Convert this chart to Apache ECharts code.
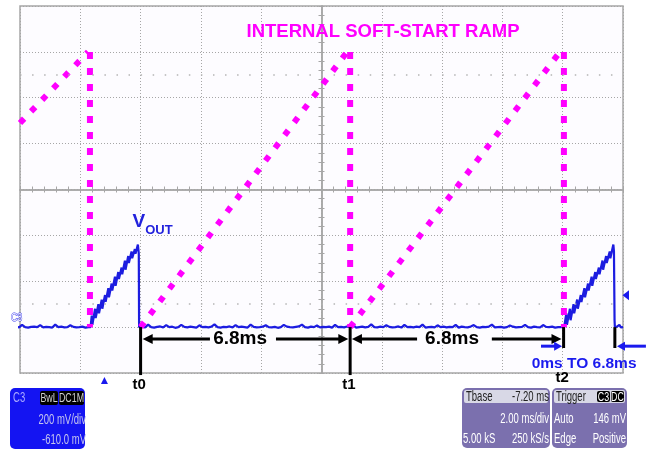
<!DOCTYPE html>
<html><head><meta charset="utf-8">
<script src="https://cdn.jsdelivr.net/npm/echarts@6/dist/echarts.min.js"></script>
<style>html,body{margin:0;padding:0;background:#fff}#c{width:646px;height:450px}</style>
</head><body><div id="c"></div>
<script>
// ---- data (time in ms relative to screen centre, volts relative to screen centre) ----
const X_TICKS = {min: -10, max: 10, step: 2};   // 2.00 ms/div
const Y_TICKS = {min: -0.8, max: 0.8, step: 0.2}; // 200 mV/div

// internal soft-start ramp (magenta)
const rampA = [[-10.0, 0.29], [-7.74, 0.60]];
const rampB = [[-6.0, -0.60], [0.85, 0.60]];
const rampC = [[0.95, -0.60], [7.91, 0.60]];
const dropA = [[-7.68, 0.60], [-7.68, -0.60]];
const dropB = [[0.95, 0.60], [0.95, -0.60]];
const dropC = [[8.04, 0.60], [8.04, -0.60]];

// VOUT trace (blue): flat sections sampled every 0.1 ms (values in mV), ramps as [ms, V]
const base1Start = -10.23, base1Step = 0.1;
const base1mV = [-600,-598,-601,-590,-600,-602,-599,-598,-600,-591,-601,-599,-600,-602,-589,-600,-598,-601,-600,-592,-599,-601,-600,-598,-602,-600];
const ramp1 = [[-7.66,-0.60],[-7.62,-0.55],[-7.60,-0.59],[-7.51,-0.52],[-7.49,-0.56],[-7.40,-0.50],[-7.38,-0.54],[-7.29,-0.48],[-7.27,-0.52],[-7.18,-0.46],[-7.16,-0.49],[-7.07,-0.43],[-7.05,-0.47],[-6.96,-0.41],[-6.94,-0.44],[-6.85,-0.38],[-6.83,-0.42],[-6.74,-0.36],[-6.72,-0.39],[-6.63,-0.34],[-6.61,-0.37],[-6.52,-0.31],[-6.50,-0.35],[-6.41,-0.29],[-6.39,-0.32],[-6.30,-0.27],[-6.28,-0.30],[-6.19,-0.26],[-6.17,-0.28],[-6.09,-0.24],[-6.06,-0.28],[-6.05,-0.60]];
const base2Start = -6.05, base2Step = 0.1;
const base2mV = [
 -600,-598,-601,-589,-600,-602,-599,-597,-601,-591,
 -600,-598,-603,-600,-590,-599,-601,-598,-600,-602,
 -592,-600,-599,-601,-598,-588,-600,-602,-599,-600,
 -597,-601,-591,-600,-598,-600,-602,-589,-599,-601,
 -600,-598,-592,-600,-601,-599,-603,-600,-590,-598,
 -600,-601,-599,-597,-589,-600,-602,-598,-600,-593,
 -601,-599,-600,-598,-602,-590,-600,-599,-601,-597,
 -600,-591,-602,-600,-598,-601,-599,-588,-600,-601,
 -598,-600,-592,-599,-601,-600,-597,-602,-590,-600,
 -599,-601,-598,-600,-589,-602,-600,-599,-601,-592,
 -600,-598,-601,-599,-600,-590,-602,-598,-600,-601,
 -597,-591,-600,-602,-599,-600,-598,-589,-601,-600,
 -599,-602,-600,-593,-598,-601,-600,-599,-590,-600,
 -602,-598,-600,-601,-591,-599,-600,-598,-602,-600,
 -600,-599];
const ramp2 = [[8.07,-0.60],[8.12,-0.54],[8.14,-0.59],[8.24,-0.52],[8.26,-0.57],[8.36,-0.50],[8.38,-0.54],[8.48,-0.48],[8.50,-0.52],[8.60,-0.46],[8.62,-0.49],[8.72,-0.43],[8.74,-0.47],[8.84,-0.41],[8.86,-0.44],[8.96,-0.38],[8.98,-0.42],[9.08,-0.36],[9.10,-0.39],[9.20,-0.34],[9.22,-0.37],[9.32,-0.31],[9.34,-0.35],[9.44,-0.29],[9.46,-0.32],[9.56,-0.27],[9.58,-0.30],[9.68,-0.24],[9.70,-0.27],[9.72,-0.57],[9.73,-0.60]];
const base3 = [[9.80,-0.598],[9.88,-0.590],[9.93,-0.601],[10.0,-0.600]];

// annotation anchors (data coords)
const T_MARKS = [-6.0, 0.95, 8.03];
const T_LABELS = ['t0', 't1', 't2'];
const END_MARK = 9.73;
const REF_LEVELS = [0.5, -0.5];
const TITLE = 'INTERNAL SOFT-START RAMP';
const SPAN_LABEL = '6.8ms';
const RANGE_LABEL = '0ms TO 6.8ms';

const chart = echarts.init(document.getElementById('c'), null, {renderer: 'canvas'});
const MAG = '#ff00ff', BLUE = '#1c1ce0', GRID = '#a6a6a6';
const FONT = '"Liberation Sans", Arial, sans-serif';

function xAx(pos, showSplit) {
  return {type: 'value', min: X_TICKS.min, max: X_TICKS.max, interval: X_TICKS.step, position: pos,
    axisLine: {show: true, onZero: true, lineStyle: {color: GRID, width: 1.5}},
    axisTick: {show: true, inside: true, length: 3, lineStyle: {color: GRID}},
    minorTick: {show: true, splitNumber: 5, length: 3, lineStyle: {color: GRID}},
    axisLabel: {show: false},
    splitLine: {show: showSplit, lineStyle: {color: GRID, type: [1, 2], width: 1}}};
}
function yAx(pos, showSplit) {
  return {type: 'value', min: Y_TICKS.min, max: Y_TICKS.max, interval: Y_TICKS.step, position: pos,
    axisLine: {show: true, onZero: true, lineStyle: {color: GRID, width: 1.5}},
    axisTick: {show: true, inside: true, length: 3, lineStyle: {color: GRID}},
    minorTick: {show: true, splitNumber: 5, length: 3, lineStyle: {color: GRID}},
    axisLabel: {show: false},
    splitLine: {show: showSplit, lineStyle: {color: GRID, type: [1, 2], width: 1}}};
}
function magRamp(d) {
  return {type: 'line', data: d, showSymbol: false, silent: true, z: 4,
    lineStyle: {color: MAG, width: 6, type: [6, 10], cap: 'butt'}};
}
function magDrop(d) {
  return {type: 'line', data: d, showSymbol: false, silent: true, z: 4,
    lineStyle: {color: MAG, width: 6, type: [7, 9], cap: 'butt'}};
}
const base1 = base1mV.map((v, i) => [base1Start + i * base1Step, v / 1000]);
const base2 = base2mV.map((v, i) => [base2Start + i * base2Step, v / 1000]);
const vout = [].concat(base1, ramp1, base2, ramp2, base3);

chart.setOption({
  animation: false,
  backgroundColor: '#ffffff',
  grid: {left: 20, top: 6, width: 603, height: 367, show: true, borderColor: GRID, borderWidth: 1.5, backgroundColor: '#fdfcff'},
  xAxis: [xAx('bottom', true), xAx('top', false)],
  yAxis: [yAx('left', true), yAx('right', false)],
  series: [
    {type: 'line', data: vout, showSymbol: false, silent: true, clip: false, z: 3,
      lineStyle: {color: BLUE, width: 2.2},
      markLine: {silent: true, symbol: 'none', label: {show: false},
        lineStyle: {color: '#b4b4b4', type: [1.5, 10.56], width: 1.5},
        data: REF_LEVELS.map(v => ({yAxis: v}))}},
    magRamp(rampA), magRamp(rampB), magRamp(rampC),
    magDrop(dropA), magDrop(dropB), magDrop(dropC)
  ]
});

function P(t, v) { return chart.convertToPixel({seriesIndex: 0}, [t, v]); }
const g = [];
function vline(t, v1, v2, color, w) {
  const a = P(t, v1), b = P(t, v2);
  g.push({type: 'line', shape: {x1: a[0], y1: a[1], x2: b[0], y2: b[1]}, style: {stroke: color, lineWidth: w}, z: 10});
}
function arrow(tFrom, tTip, v, color, w, hl, hw) {
  const a = P(tFrom, v), b = P(tTip, v);
  const dir = b[0] > a[0] ? 1 : -1;
  g.push({type: 'line', shape: {x1: a[0], y1: a[1], x2: b[0] - dir * hl * 0.8, y2: b[1]}, style: {stroke: color, lineWidth: w}, z: 10});
  g.push({type: 'polygon', shape: {points: [[b[0], b[1]], [b[0] - dir * hl, b[1] - hw], [b[0] - dir * hl, b[1] + hw]]}, style: {fill: color}, z: 10});
}
function text(t, v, s, opt) {
  const p = P(t, v);
  g.push({type: 'text', x: p[0], y: p[1], z: 11, style: Object.assign({text: s, fill: '#000', font: 'bold 19px ' + FONT, align: 'center', verticalAlign: 'middle'}, opt || {})});
}

// black time markers
vline(T_MARKS[0], -0.60, -0.809, '#000', 3);
vline(T_MARKS[1], -0.60, -0.809, '#000', 3);
vline(T_MARKS[2], -0.60, -0.691, '#000', 3);
vline(END_MARK, -0.60, -0.691, '#000', 3);
arrow(-3.70, T_MARKS[0] + 0.07, -0.652, '#000', 3, 10, 5);
arrow(-1.51, T_MARKS[1] - 0.06, -0.652, '#000', 3, 10, 5);
arrow(3.17, T_MARKS[1] + 0.06, -0.652, '#000', 3, 10, 5);
arrow(5.65, T_MARKS[2] - 0.07, -0.652, '#000', 3, 10, 5);
text(-2.70, -0.652, SPAN_LABEL);
text(4.33, -0.652, SPAN_LABEL);
text(T_MARKS[0] - 0.05, -0.852, T_LABELS[0], {font: 'bold 15px ' + FONT});
text(T_MARKS[1] - 0.04, -0.852, T_LABELS[1], {font: 'bold 15px ' + FONT});
text(T_MARKS[2] - 0.05, -0.822, T_LABELS[2], {font: 'bold 15px ' + FONT});
// blue range arrows
arrow(7.28, T_MARKS[2] - 0.05, -0.683, '#1a1aee', 3, 8, 4.5);
arrow(10.76, END_MARK + 0.07, -0.683, '#1a1aee', 3, 8, 4.5);
text(8.71, -0.761, RANGE_LABEL, {fill: '#1a1aee', font: 'bold 15.5px ' + FONT});
// titles
text(2.04, 0.687, TITLE, {fill: MAG, font: 'bold 18.5px ' + FONT});
(function () {
  const p = P(-6.27, -0.183);
  g.push({type: 'text', x: p[0], y: p[1], z: 11, style: {
    text: '{v|V}{o|OUT}', verticalAlign: 'bottom',
    rich: {v: {fill: '#2222dd', font: 'bold 19px ' + FONT, verticalAlign: 'bottom'},
           o: {fill: '#2222dd', font: 'bold 13px ' + FONT, verticalAlign: 'bottom', padding: [0, 0, -5, 0]}}}});
})();
// channel label and markers
(function () {
  const p = P(-10, -0.56);
  g.push({type: 'text', x: 11, y: p[1], z: 11, scaleX: 0.8, style: {text: 'C3', fill: '#ffffff', stroke: '#3a3aee', lineWidth: 1, font: '11px ' + FONT, verticalAlign: 'middle'}});
  const tr = P(-7.2, -0.8);
  g.push({type: 'polygon', shape: {points: [[tr[0], tr[1] + 4], [tr[0] - 3.5, tr[1] + 11], [tr[0] + 3.5, tr[1] + 11]]}, style: {fill: '#1a1aee'}, z: 10});
  const tl = P(10, -0.461);
  g.push({type: 'polygon', shape: {points: [[tl[0] - 0.5, tl[1]], [tl[0] + 6, tl[1] - 5], [tl[0] + 6, tl[1] + 5]]}, style: {fill: '#1a1aee'}, z: 10});
})();

// scope info boxes (decoration)
function box(x, y, w, h, fill, r) { g.push({type: 'rect', shape: {x: x, y: y, width: w, height: h, r: r}, style: {fill: fill}, z: 20}); }
function tx(x, y, s, fill, align, size) {
  g.push({type: 'text', x: x, y: y, z: 21, scaleX: 0.68, style: {text: s, fill: fill, font: (size || 14) + 'px ' + FONT, align: align || 'left', verticalAlign: 'middle'}});
}
// C3 channel box
box(10, 388, 75, 61, '#1414f2', 5);
tx(13, 398, 'C3', '#a8a8ff', 'left', 14);
box(40, 391, 18, 14, '#000', 2); tx(49, 398, 'BwL', '#d0d0d0', 'center', 13);
box(59, 391, 25, 14, '#000', 2); tx(71.5, 398, 'DC1M', '#d0d0d0', 'center', 13);
tx(86, 420, '200 mV/div', '#c4c4ee', 'right', 14);
tx(86, 440, '-610.0 mV', '#c4c4ee', 'right', 14);
// timebase box
box(462, 388, 88, 60, '#7b70ae', 5);
box(464, 390, 84, 13, '#d8d8e6', 2);
tx(466, 397, 'Tbase', '#222', 'left', 14);
tx(549, 397, '-7.20 ms', '#222', 'right', 14);
tx(549, 419, '2.00 ms/div', '#fff', 'right', 14);
tx(463, 439, '5.00 kS', '#fff', 'left', 14);
tx(549, 439, '250 kS/s', '#fff', 'right', 14);
// trigger box
box(552, 388, 75, 60, '#7b70ae', 5);
box(554, 390, 71, 13, '#d8d8e6', 2);
tx(556, 397, 'Trigger', '#222', 'left', 14);
box(597, 391, 13, 11, '#000', 2); tx(603.5, 397, 'C3', '#fff', 'center', 13);
box(611, 391, 13, 11, '#000', 2); tx(617.5, 397, 'DC', '#fff', 'center', 13);
tx(554, 419, 'Auto', '#fff', 'left', 14);
tx(626, 419, '146 mV', '#fff', 'right', 14);
tx(554, 439, 'Edge', '#fff', 'left', 14);
tx(626, 439, 'Positive', '#fff', 'right', 14);

chart.setOption({graphic: {elements: g}});
</script></body></html>
